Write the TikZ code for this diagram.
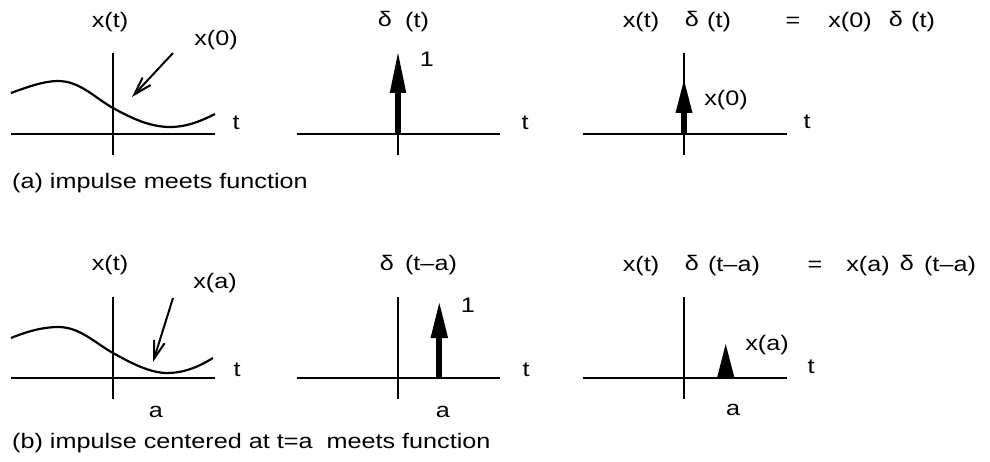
\documentclass[tikz,border=0pt]{standalone}
\usepackage{fontspec}
\setmainfont{Liberation Sans}
\usetikzlibrary{arrows.meta}
\newcommand\hstr[1]{\scalebox{1.2}[1]{#1}}
\tikzset{
  lbl/.style={inner sep=0pt, anchor=base, font=\fontsize{21}{24}\selectfont},
  captxt/.style={lbl, anchor=base west},
  axis/.style={line width=2.2pt},
  curve/.style={line width=2.2pt},
  pointer/.style={line width=2pt, -{Straight Barb[length=18pt,width=11pt,line width=2pt]}},
  imp/.style={fill=black, draw=none}
}
\begin{document}
\begin{tikzpicture}[x=1pt,y=-1pt]
\useasboundingbox (0,0) rectangle (990,462);

% ---------------- row (a) ----------------
% panel 1
\draw[axis] (11,134) -- (215,134);
\draw[axis] (113,53) -- (113,155);
\draw[curve] (11,93) .. controls (30,86) and (45,81) .. (58,81)
  .. controls (80,81) and (95,98) .. (113,108)
  .. controls (131,118) and (150,127) .. (170,127)
  .. controls (188,127) and (203,120) .. (215,114);
\node[lbl] (xt1) at (110,28) {\hstr{x(t)}};
\node[lbl] (x0a) at (216,45.5) {\hstr{x(0)}};
\node[lbl] (t1) at (236,130) {\hstr{t}};
\coordinate (p1s) at (173,53);
\coordinate (p1e) at (132,97);
\draw[pointer] (p1s) -- (p1e);

% panel 2
\draw[axis] (297,134) -- (500,134);
\draw[axis] (398,134) -- (398,155);
\fill[imp] (394.7,134) rectangle (401.3,93);
\fill[imp] (389.7,93) -- (406.3,93) -- (398,53) -- cycle;
\node[lbl] (d2) at (385,27) {\hstr{δ}};
\node[lbl] (a2) at (417,27.5) {\hstr{(t)}};
\node[lbl] (one2) at (427,67) {\hstr{1}};
\node[lbl] (t2) at (525,130) {\hstr{t}};

% panel 3
\draw[axis] (583,134) -- (787,134);
\draw[axis] (684,53) -- (684,155);
\fill[imp] (681,134) rectangle (687,113);
\fill[imp] (675.5,113) -- (692.5,113) -- (684,80) -- cycle;
\node[lbl] (xt3) at (641,27.5) {\hstr{x(t)}};
\node[lbl] (d3) at (692,27) {\hstr{δ}};
\node[lbl] (a3) at (719,27.5) {\hstr{(t)}};
\node[lbl] (eq3) at (793,27.5) {\hstr{=}};
\node[lbl] (x03) at (850,27.5) {\hstr{x(0)}};
\node[lbl] (d3b) at (896,27) {\hstr{δ}};
\node[lbl] (a3b) at (923,27.5) {\hstr{(t)}};
\node[lbl] (x0b) at (726,105.5) {\hstr{x(0)}};
\node[lbl] (t3) at (807,129) {\hstr{t}};

\node[captxt] (capa) at (12,188.5) {\hstr{(a) impulse meets function}};

% ---------------- row (b) ----------------
% panel 1
\draw[axis] (11,378) -- (215,378);
\draw[axis] (113,297) -- (113,399);
\draw[curve] (11,338) .. controls (28,331) and (44,327) .. (58,327)
  .. controls (80,327) and (95,343) .. (113,353)
  .. controls (131,363) and (150,373) .. (167,373)
  .. controls (185,373) and (200,366) .. (213,358);
\node[lbl] (xt4) at (110,270.5) {\hstr{x(t)}};
\node[lbl] (xa4) at (215,288.5) {\hstr{x(a)}};
\node[lbl] (t4) at (237,376) {\hstr{t}};
\node[lbl] (a4) at (156,417) {\hstr{a}};
\coordinate (p4s) at (173,298);
\coordinate (p4e) at (153,362);
\draw[pointer] (p4s) -- (p4e);

% panel 2
\draw[axis] (297,378) -- (500,378);
\draw[axis] (398,297) -- (398,399);
\fill[imp] (435.7,378) rectangle (442.3,338);
\fill[imp] (430.5,338) -- (448.1,338) -- (439.3,303) -- cycle;
\node[lbl] (d5) at (387,270) {\hstr{δ}};
\node[lbl] (a5) at (431,270.5) {\hstr{(t–a)}};
\node[lbl] (one5) at (468,312) {\hstr{1}};
\node[lbl] (t5) at (526,376) {\hstr{t}};
\node[lbl] (aa5) at (443,417) {\hstr{a}};

% panel 3
\draw[axis] (583,378) -- (787,378);
\draw[axis] (684,297) -- (684,399);
\fill[imp] (717,378) -- (734.5,378) -- (725.7,344) -- cycle;
\node[lbl] (xt6) at (641,271.5) {\hstr{x(t)}};
\node[lbl] (d6) at (692,271) {\hstr{δ}};
\node[lbl] (a6) at (734,271.5) {\hstr{(t–a)}};
\node[lbl] (eq6) at (815,271.5) {\hstr{=}};
\node[lbl] (xa6) at (868,271.5) {\hstr{x(a)}};
\node[lbl] (d6b) at (907,271) {\hstr{δ}};
\node[lbl] (a6b) at (950,271.5) {\hstr{(t–a)}};
\node[lbl] (xa6b) at (767,350) {\hstr{x(a)}};
\node[lbl] (t6) at (811,373) {\hstr{t}};
\node[lbl] (aa6) at (733,415) {\hstr{a}};

\node[captxt] (capb) at (12,448.5) {\hstr{(b) impulse centered at t=a\ \ meets function}};
\end{tikzpicture}
\end{document}
